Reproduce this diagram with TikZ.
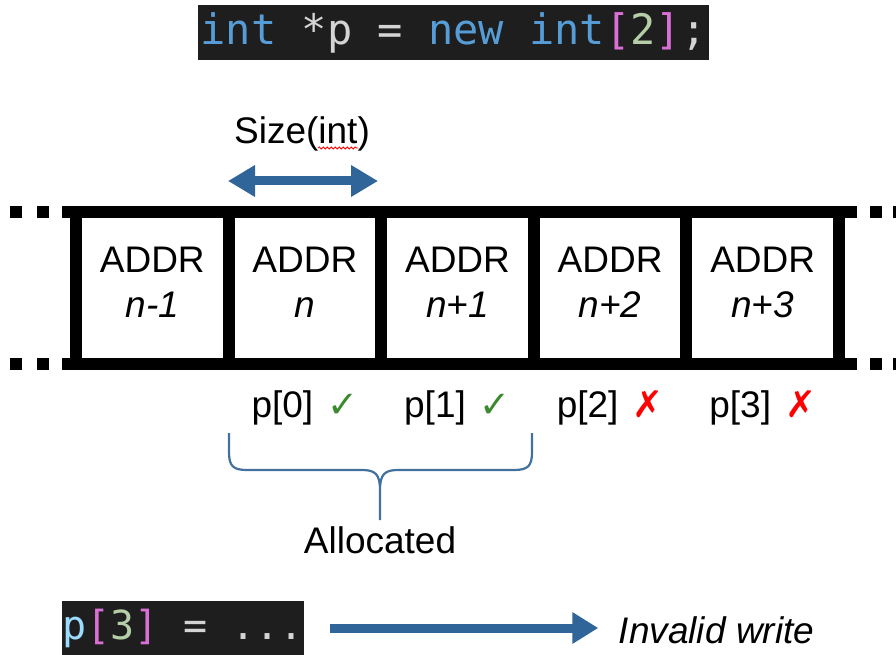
\documentclass[tikz,border=0pt]{standalone}
\usepackage{fontspec}
\setmainfont{Liberation Sans}
\newfontfamily\codefont{DejaVu Sans Mono}
\newfontfamily\symfont{DejaVu Sans}
\usetikzlibrary{arrows.meta,decorations.pathmorphing,calc}

\definecolor{codebg}{HTML}{1E1E1E}
\definecolor{kwblue}{HTML}{569CD6}
\definecolor{varblue}{HTML}{9CDCFE}
\definecolor{brk}{HTML}{DA70D6}
\definecolor{numgreen}{HTML}{B5CEA8}
\definecolor{plain}{HTML}{D4D4D4}
\definecolor{arrblue}{HTML}{2F6598}
\definecolor{braceblue}{HTML}{41719C}
\definecolor{okgreen}{HTML}{3B8B2E}

\tikzset{
  txt/.style={font=\fontsize{37}{45}\selectfont},
  cell/.style={txt, align=center},
  codeline/.style={fill=codebg, inner ysep=0pt, minimum height=55pt, text=plain},
  bigarrow/.style={line width=9pt, color=arrblue},
}

\begin{document}
\begin{tikzpicture}[x=1pt,y=-1pt,>=latex]
    \useasboundingbox (0,0) rectangle (896,655);

    % code on top
    \node[codeline, inner xsep=2.6pt, font=\codefont\fontsize{42}{50}\selectfont] (decl) at (453.5,32.5)
      {\textcolor{kwblue}{int} *p = \textcolor{kwblue}{new} \textcolor{kwblue}{int}\textcolor{brk}{[}\textcolor{numgreen}{2}\textcolor{brk}{]};};

    % size of one cell
    \node[txt, anchor=base] (size) at (302,144) {Size(int)};
    \draw[red, line width=0.8pt, decorate, decoration={snake, amplitude=1.1pt, segment length=4pt}] (318,148) -- (358,148);
    \coordinate (sl) at (228,181);
    \coordinate (sr) at (378,181);
    \draw[bigarrow, {Triangle[length=27pt,width=30pt]}-{Triangle[length=27pt,width=30pt]}] (sl) -- (sr);

    % memory strip
    \fill (62,206) rectangle (857,218);
    \fill (62,358) rectangle (857,370);
    \foreach \x in {10,37,870,893} {
      \fill (\x,206) rectangle ++(12,12);
      \fill (\x,358) rectangle ++(12,12);
    }
    \foreach \i in {0,...,5} {
      \fill ({70+152.6*\i},206) rectangle ++(12,164);
    }
    \foreach \lab [count=\i from 0] in {n-1,n,n+1,n+2,n+3} {
      \node[cell] (c\i) at ({152.3+152.6*\i},282) {ADDR\\\textit{\lab}};
    }

    % index labels
    \foreach \idx/\mk/\col [count=\i from 0] in {0/✓/okgreen,1/✓/okgreen,2/✗/red,3/✗/red} {
      \node[txt] (p\i) at ({304.9+152.6*\i},408) {p[\idx]\hspace{14pt}{\symfont\textcolor{\col}{\mk}}};
    }

    % brace over the allocated part
    \draw[braceblue, line width=2.2pt]
      (229,433) -- (229,452) .. controls (229,466) and (233,470) .. (247,470) -- (362,470)
      .. controls (375,470) and (380,474) .. (380,490) -- (380,520)
      (532,433) -- (532,452) .. controls (532,466) and (528,470) .. (514,470) -- (398,470)
      .. controls (385,470) and (380,474) .. (380,490);
    \node[txt] (alloc) at (380,540) {Allocated};

    % invalid write
    \node[codeline, anchor=west, inner xsep=0.5pt, font=\codefont\fontsize{40}{48}\selectfont] (wr) at (62,628)
      {\textcolor{varblue}{p}\textcolor{brk}{[}\textcolor{numgreen}{3}\textcolor{brk}{]} = ...};
    \node[txt, font=\fontsize{37}{45}\selectfont\itshape] (inv) at (716.5,630) {Invalid write};
    \draw[bigarrow, -{Triangle[length=26pt,width=30pt]}, shorten <=26pt, shorten >=17pt] (wr.east) -- (wr.east -| inv.west);
\end{tikzpicture}
\end{document}
